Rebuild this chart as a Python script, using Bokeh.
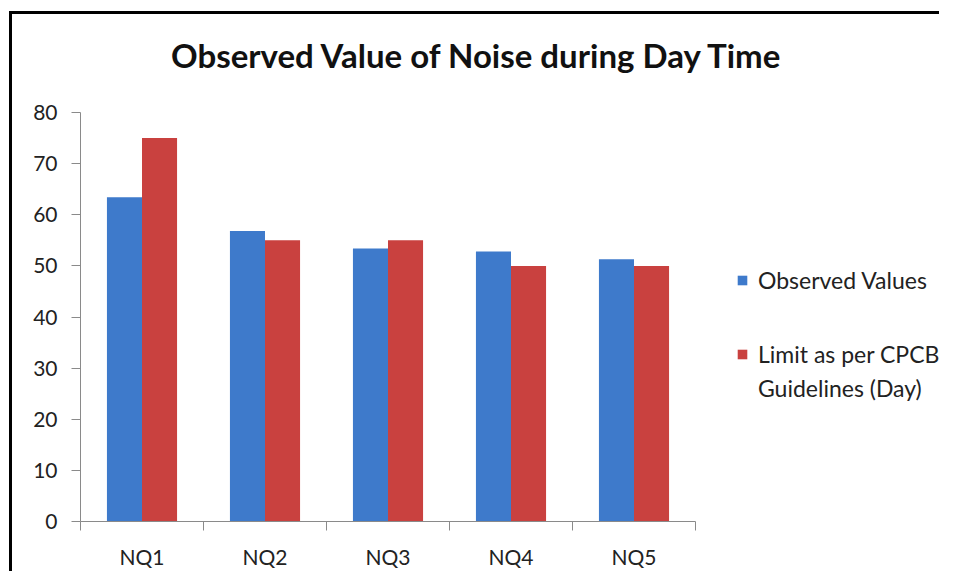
from bokeh.plotting import figure
from bokeh.models import Legend, LegendItem, FixedTicker, Range1d, ColumnDataSource, Label
from bokeh.embed import file_html
from bokeh.resources import INLINE

categories = ["NQ1", "NQ2", "NQ3", "NQ4", "NQ5"]
observed = [63.4, 56.8, 53.4, 52.8, 51.3]
limit = [75, 55, 55, 50, 50]
y_ticks = [0, 10, 20, 30, 40, 50, 60, 70, 80]
series_names = ["Observed Values", "Limit as per CPCB", "Guidelines (Day)"]
title_text = "Observed Value of Noise during Day Time"

FONT = "Lato"
BLUE = "#3e7acb"
RED = "#c9413f"

W, H = 930, 560
LEFT, RIGHT, TOP, BOTTOM = 68, 0, 0, 53
AXIS_PX_X = 615   # pixel length of the category axis
AXIS_PX_Y = 409   # pixel length of the value axis (0..80)
n = len(categories)
y_max = y_ticks[-1]
frame_w = W - LEFT - RIGHT
frame_h = H - TOP - BOTTOM
x_end = n * frame_w / AXIS_PX_X      # frame extends right to host the legend
y_end = y_max * frame_h / AXIS_PX_Y  # frame extends up to host the title

p = figure(width=W, height=H, output_backend="svg", toolbar_location=None,
           x_range=Range1d(0, x_end), y_range=Range1d(0, y_end),
           min_border_left=LEFT, min_border_right=RIGHT, min_border_top=TOP,
           min_border_bottom=BOTTOM)
p.outline_line_color = None
p.xgrid.visible = False
p.ygrid.visible = False
p.background_fill_color = "white"
p.border_fill_color = "white"

bw = 0.285
idx = list(range(n))
src = ColumnDataSource(dict(
    xo=[i + 0.5 - bw / 2 for i in idx],
    xl=[i + 0.5 + bw / 2 for i in idx],
    obs=observed, lim=limit))
r1 = p.vbar(x="xo", top="obs", width=bw, source=src, fill_color=BLUE, line_color=None)
r2 = p.vbar(x="xl", top="lim", width=bw, source=src, fill_color=RED, line_color=None)
# invisible renderer: second legend line without a swatch
empty = ColumnDataSource(dict(x=[], top=[]))
s3 = p.vbar(x="x", top="top", width=bw, source=empty, fill_alpha=0, line_alpha=0)

# title (screen units, relative to the frame's bottom-left)
p.add_layout(Label(x=397, y=467, x_units="screen", y_units="screen", text=title_text,
                   text_align="center", text_baseline="alphabetic",
                   text_font=FONT, text_font_size="33px", text_font_style="bold",
                   text_color="#111111"))

# x axis
xa = p.xaxis[0]
xa.bounds = (0, n)
xa.ticker = FixedTicker(ticks=[i + 0.5 for i in idx], minor_ticks=list(range(n + 1)))
xa.major_label_overrides = {i + 0.5: c for i, c in zip(idx, categories)}
xa.major_tick_out = 0
xa.major_tick_in = 0
xa.minor_tick_out = 9
xa.minor_tick_in = 0
xa.minor_tick_line_color = "#8a8a8a"
xa.axis_line_color = "#8a8a8a"
xa.major_label_text_font = FONT
xa.major_label_text_font_size = "21px"
xa.major_label_text_color = "#222222"
xa.major_label_standoff = 13

# y axis
ya = p.yaxis[0]
ya.bounds = (0, y_max)
ya.ticker = FixedTicker(ticks=y_ticks)
ya.major_tick_out = 9
ya.major_tick_in = 0
ya.minor_tick_out = 0
ya.minor_tick_in = 0
ya.axis_line_color = "#8a8a8a"
ya.major_tick_line_color = "#8a8a8a"
ya.major_label_text_font = FONT
ya.major_label_text_font_size = "21px"
ya.major_label_text_color = "#222222"
ya.major_label_standoff = 14


def make_legend(items, loc, spacing):
    lg = Legend(items=items, location=loc)
    lg.border_line_color = None
    lg.background_fill_alpha = 0
    lg.label_text_font = FONT
    lg.label_text_font_size = "23px"
    lg.label_text_color = "#222222"
    lg.glyph_width = 12
    lg.glyph_height = 12
    lg.label_height = 24
    lg.label_standoff = 10
    lg.spacing = spacing
    lg.margin = 0
    lg.padding = 0
    return lg


lg1 = make_legend([LegendItem(label=series_names[0], renderers=[r1])], (656, 227), 0)
lg2 = make_legend([LegendItem(label=series_names[1], renderers=[r2]),
                   LegendItem(label=series_names[2], renderers=[s3])], (656, 119), 6)
p.add_layout(lg1)
p.add_layout(lg2)

p.styles = {"border-top": "3px solid black", "border-left": "3px solid black",
            "margin-left": "9px", "margin-top": "11px"}

open("out.html", "w").write(file_html(p, INLINE))
